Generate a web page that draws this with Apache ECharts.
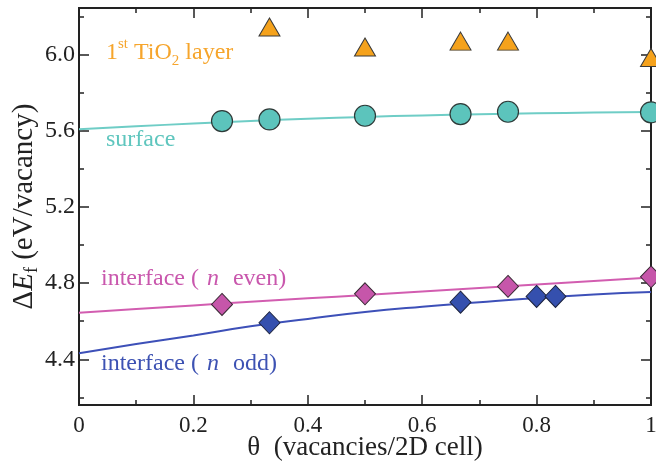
<!DOCTYPE html>
<html>
<head>
<meta charset="utf-8">
<script src="https://cdn.jsdelivr.net/npm/echarts@6/dist/echarts.min.js"></script>
<style>
  html, body { margin: 0; padding: 0; background: #fff; }
  #chart { width: 656px; height: 461px; }
</style>
</head>
<body>
<div id="chart"></div>
<script>
// Vacancy formation energy vs. coverage
const thetaLayer = [0.333, 0.5, 0.667, 0.75, 1.0];
const firstLayer = [6.145, 6.04, 6.071, 6.071, 5.985];

const thetaSurface = [0.25, 0.333, 0.5, 0.667, 0.75, 1.0];
const surface = [5.651, 5.66, 5.679, 5.688, 5.70, 5.697];

const thetaEven = [0.25, 0.5, 0.75, 1.0];
const interfaceEven = [4.688, 4.744, 4.783, 4.833];

const thetaOdd = [0.333, 0.667, 0.8, 0.833];
const interfaceOdd = [4.592, 4.70, 4.73, 4.73];

// fitted curves, sampled along θ
const fitTheta = [0, 0.1, 0.2, 0.3, 0.4, 0.5, 0.6, 0.7, 0.8, 0.9, 1.0];
const surfaceFit = [5.608, 5.624, 5.638, 5.652, 5.664, 5.673, 5.681, 5.687, 5.692, 5.696, 5.699];
const evenFit = [4.645, 4.664, 4.683, 4.702, 4.72, 4.738, 4.756, 4.774, 4.793, 4.811, 4.829];
const oddFit = [4.432, 4.48, 4.525, 4.573, 4.612, 4.648, 4.676, 4.70, 4.722, 4.74, 4.753];

const yMajor = [4.4, 4.8, 5.2, 5.6, 6.0];
const yMinor = [4.2, 4.6, 5.0, 5.4, 5.8, 6.2];
const Y_MIN = 4.16, Y_MAX = 6.245;

const FONT = '"Liberation Serif", "DejaVu Serif", serif';
const AXIS = '#222';
const C = {
  layer: '#f5a21c', layerText: '#f6a52c',
  surf: '#5cc4bc', surfLine: '#6fcdc6', surfText: '#5fc6be',
  even: '#c656aa', evenLine: '#d25db0', evenText: '#c957ad',
  odd: '#3550ae', oddLine: '#3d50b8', oddText: '#3d52b3'
};

const zip = (xs, ys) => xs.map((x, i) => [x, ys[i]]);

function xAx(pos, labels, minor) {
  return {
    type: 'value', position: pos, min: 0, max: 1, interval: 0.2,
    axisLine: { show: true, onZero: false, lineStyle: { color: AXIS, width: 2 } },
    axisTick: { show: true, inside: true, length: 10, lineStyle: { color: AXIS, width: 1.5 } },
    minorTick: { show: minor, splitNumber: 2, length: 5, lineStyle: { color: AXIS, width: 1.5 } },
    axisLabel: { show: labels, color: AXIS, fontFamily: FONT, fontSize: 23, margin: 9 },
    splitLine: { show: false }, minorSplitLine: { show: false },
    name: labels ? '{t|θ}  {n|(vacancies/2D cell)}' : '',
    nameLocation: 'middle', nameGap: 29, nameMoveOverlap: false,
    nameTextStyle: {
      color: AXIS, fontFamily: FONT, fontSize: 27,
      rich: { t: { fontFamily: FONT, fontSize: 27, color: AXIS }, n: { fontFamily: FONT, fontSize: 27, color: AXIS } }
    }
  };
}

function yAx(pos, ticks, len, labels) {
  return {
    type: 'value', position: pos, min: Y_MIN, max: Y_MAX,
    axisLine: { show: true, onZero: false, lineStyle: { color: AXIS, width: 2 } },
    axisTick: { show: true, inside: true, length: len, customValues: ticks, lineStyle: { color: AXIS, width: 1.5 } },
    axisLabel: labels ? {
      show: true, customValues: yMajor, color: AXIS, fontFamily: FONT, fontSize: 24, margin: 4,
      formatter: v => v.toFixed(1)
    } : { show: false },
    splitLine: { show: false },
    name: labels ? '{d|Δ}{e|E}{s|f} {n|(eV/vacancy)}' : '',
    nameLocation: 'middle', nameGap: 38, nameRotate: 90, nameMoveOverlap: false,
    nameTextStyle: {
      color: AXIS, fontFamily: FONT, fontSize: 29,
      rich: {
        d: { fontFamily: FONT, fontSize: 29, color: AXIS, lineHeight: 34 },
        e: { fontFamily: FONT, fontSize: 29, fontStyle: 'italic', color: AXIS, lineHeight: 34 },
        s: { fontFamily: FONT, fontSize: 18, color: AXIS, lineHeight: 18, verticalAlign: 'bottom' },
        n: { fontFamily: FONT, fontSize: 29, color: AXIS, lineHeight: 34 }
      }
    }
  };
}

function label(x, y, text, rich, color) {
  const base = { fontFamily: FONT, fontSize: 24, color: color, lineHeight: 32 };
  const r = {};
  Object.keys(rich).forEach(k => { r[k] = Object.assign({}, base, rich[k]); });
  return {
    type: 'text', x: x, y: y, z: 10,
    style: { text: text, rich: r, fill: color, font: '24px ' + FONT, verticalAlign: 'middle', align: 'left' }
  };
}

const chart = echarts.init(document.getElementById('chart'), null, { renderer: 'canvas' });

chart.setOption({
  backgroundColor: '#fff',
  animation: false,
  grid: { left: 79, right: 5, top: 8, bottom: 56, containLabel: false, outerBoundsMode: 'none' },
  xAxis: [xAx('bottom', true, true), xAx('top', false, true)],
  yAxis: [
    yAx('left', yMajor, 10, true),
    yAx('right', yMajor, 10, false),
    yAx('left', yMinor, 5, false),
    yAx('right', yMinor, 5, false)
  ],
  series: [
    { type: 'line', data: zip(fitTheta, surfaceFit), smooth: true, showSymbol: false, symbol: 'none',
      lineStyle: { color: C.surfLine, width: 2 }, z: 2, silent: true },
    { type: 'line', data: zip(fitTheta, evenFit), smooth: true, showSymbol: false, symbol: 'none',
      lineStyle: { color: C.evenLine, width: 2 }, z: 2, silent: true },
    { type: 'line', data: zip(fitTheta, oddFit), smooth: true, showSymbol: false, symbol: 'none',
      lineStyle: { color: C.oddLine, width: 2 }, z: 2, silent: true },
    { type: 'scatter', data: zip(thetaLayer, firstLayer), symbol: 'triangle', symbolSize: [21, 18], clip: false,
      itemStyle: { color: C.layer, borderColor: '#3a3a3a', borderWidth: 1, opacity: 1 }, z: 5 },
    { type: 'scatter', data: zip(thetaSurface, surface), symbol: 'circle', symbolSize: 21, clip: false,
      itemStyle: { color: C.surf, borderColor: '#2e3a38', borderWidth: 1.2, opacity: 1 }, z: 5 },
    { type: 'scatter', data: zip(thetaEven, interfaceEven), symbol: 'diamond', symbolSize: [21, 22], clip: false,
      itemStyle: { color: C.even, borderColor: '#3a2a35', borderWidth: 1, opacity: 1 }, z: 5 },
    { type: 'scatter', data: zip(thetaOdd, interfaceOdd), symbol: 'diamond', symbolSize: [21, 22], clip: false,
      itemStyle: { color: C.odd, borderColor: '#1e2540', borderWidth: 1, opacity: 1 }, z: 5 }
  ],
  graphic: [
    label(106, 53, '{a|1}{sup|st}{a| TiO}{sub|2}{a| layer}', {
      a: {}, sup: { fontSize: 15, lineHeight: 15, verticalAlign: 'top' },
      sub: { fontSize: 15, lineHeight: 15, verticalAlign: 'bottom' }
    }, C.layerText),
    label(106, 140, '{a|surface}', { a: {} }, C.surfText),
    label(101, 279, '{a|interface ( }{i|n}{a|  even)}', { a: {}, i: { fontStyle: 'italic', padding: [0, 2, 0, 2] } }, C.evenText),
    label(101, 364, '{a|interface ( }{i|n}{a|  odd)}', { a: {}, i: { fontStyle: 'italic', padding: [0, 2, 0, 2] } }, C.oddText)
  ]
});
</script>
</body>
</html>
